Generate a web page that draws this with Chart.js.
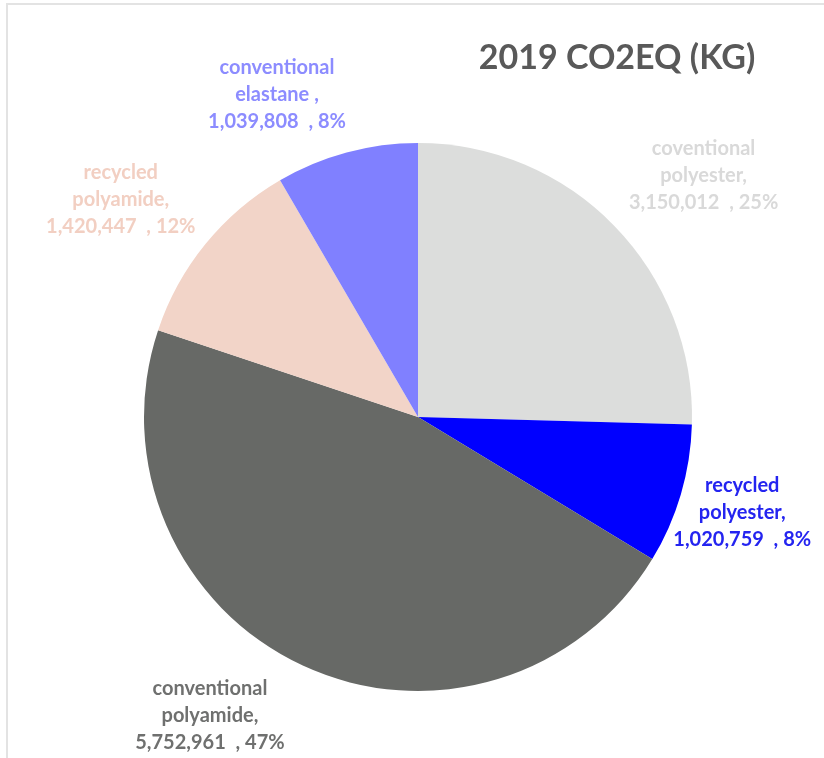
<!DOCTYPE html>
<html>
<head>
<meta charset="utf-8">
<script src="https://cdn.jsdelivr.net/npm/chart.js@4.4.1/dist/chart.umd.min.js"></script>
<style>
  html, body { margin: 0; padding: 0; background: #fff; }
  #wrap { position: relative; width: 824px; height: 758px; }
  #frame { position: absolute; left: 6px; top: 3px; right: -4px; bottom: -4px; border: 2px solid #e3e3e3; }
</style>
</head>
<body>
<div id="wrap">
  <div id="frame"></div>
  <canvas id="main-chart" width="824" height="758"></canvas>
</div>
<script>
const title = '2019 CO2EQ (KG)';
const categories = [
  ['coventional', 'polyester,'],
  ['recycled', 'polyester,'],
  ['conventional', 'polyamide,'],
  ['recycled', 'polyamide,'],
  ['conventional', 'elastane ,']
];
const values = [3150012, 1020759, 5752961, 1420447, 1039808];
// percentages as printed on the chart
const percents = [25, 8, 47, 12, 8];
const sliceColors = ['#dcdddc', '#0000ff', '#676966', '#f2d4c8', '#8080ff'];
const labelColors = ['#d9d9d9', '#2424f0', '#6f706f', '#f2cfc2', '#8c8cff'];

// label anchor: extra distance beyond the rim, and a small angle nudge (degrees)
const labelGap = [100, 64, 90, 94, 78];
const labelNudge = [4, 0, 10, -3, -8.5];

const labelPlugin = {
  id: 'sliceLabels',
  afterDatasetsDraw(chart) {
    const ctx = chart.ctx;
    const meta = chart.getDatasetMeta(0);
    ctx.save();
    ctx.textAlign = 'center';
    ctx.textBaseline = 'middle';
    ctx.font = 'bold 20px Lato, "Open Sans", sans-serif';
    meta.data.forEach((arc, i) => {
      const mid = (arc.startAngle + arc.endAngle) / 2 + labelNudge[i] * Math.PI / 180;
      const r = arc.outerRadius + labelGap[i];
      const cx = arc.x + Math.cos(mid) * r;
      const cy = arc.y + Math.sin(mid) * r;
      const lines = [categories[i][0], categories[i][1], values[i].toLocaleString('en-US') + '  , ' + percents[i] + '%'];
      ctx.fillStyle = labelColors[i];
      lines.forEach((t, k) => ctx.fillText(t, cx, cy + (k - 1) * 27));
    });
    ctx.font = 'bold 34px Lato, "Open Sans", sans-serif';
    ctx.fillStyle = '#595959';
    ctx.fillText(title, 617, 58);
    ctx.restore();
  }
};

new Chart(document.getElementById('main-chart').getContext('2d'), {
  type: 'pie',
  data: {
    labels: categories.map(c => c.join(' ')),
    datasets: [{
      data: values,
      backgroundColor: sliceColors,
      borderWidth: 0
    }]
  },
  options: {
    responsive: false,
    animation: false,
    layout: { padding: { left: 144, top: 143, right: 132, bottom: 67 } },
    plugins: {
      legend: { display: false },
      tooltip: { enabled: false }
    }
  },
  plugins: [labelPlugin]
});
</script>
</body>
</html>
